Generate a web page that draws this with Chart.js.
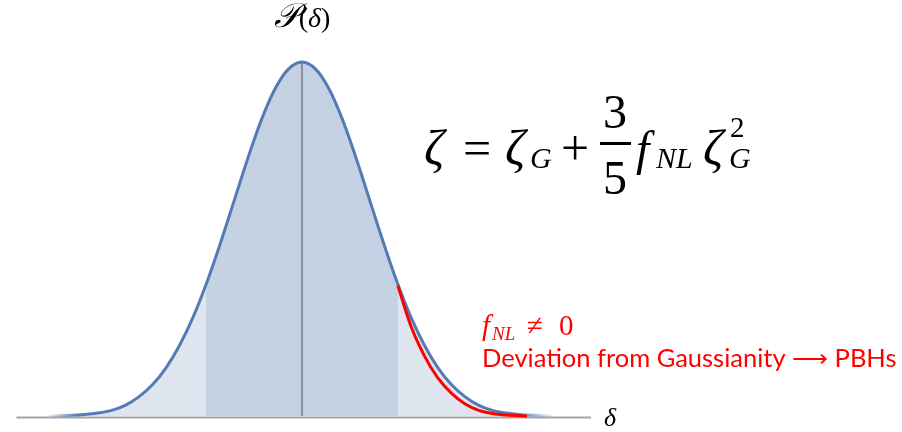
<!DOCTYPE html>
<html>
<head>
<meta charset="utf-8">
<script src="https://cdn.jsdelivr.net/npm/chart.js@4.4.1/dist/chart.umd.min.js"></script>
<style>
  html, body { margin: 0; padding: 0; background: #ffffff; }
  canvas { display: block; }
</style>
</head>
<body>
<canvas id="pdf" width="902" height="432"></canvas>
<script>
// Probability density P(δ), δ in units of the standard deviation, peak normalised to 1
const delta   = [-4, -3.8, -3.6, -3.4, -3.2, -3, -2.8, -2.6, -2.4, -2.2, -2, -1.8, -1.6, -1.4, -1.2, -1, -0.8, -0.6, -0.4, -0.2,
                 0, 0.2, 0.4, 0.6, 0.8, 1, 1.2, 1.4, 1.6, 1.8, 2, 2.2, 2.4, 2.6, 2.8, 3, 3.2, 3.4, 3.6, 3.8, 4];
const density = [0, 0.0003, 0.0009, 0.002, 0.0043, 0.0085, 0.016, 0.030, 0.054, 0.088, 0.136, 0.200, 0.280, 0.377, 0.488, 0.607, 0.726, 0.835, 0.923, 0.980,
                 1, 0.980, 0.923, 0.835, 0.726, 0.607, 0.488, 0.377, 0.280, 0.200, 0.136, 0.088, 0.054, 0.030, 0.016, 0.0085, 0.0043, 0.002, 0.0009, 0.0003, 0];

// Central band under the curve
const bandDelta   = [-1.41, -1.2, -1, -0.8, -0.6, -0.4, -0.2, 0, 0.2, 0.4, 0.6, 0.8, 1, 1.2, 1.41];
const bandDensity = [0.371, 0.488, 0.607, 0.726, 0.835, 0.923, 0.980, 1, 0.980, 0.923, 0.835, 0.726, 0.607, 0.488, 0.371];

// Non-Gaussian right tail (f_NL ≠ 0)
const tailDelta   = [1.41, 1.6, 1.8, 2.0, 2.2, 2.4, 2.6, 2.8, 3.0, 3.31];
const tailDensity = [0.368, 0.255, 0.170, 0.107, 0.064, 0.034, 0.016, 0.007, 0.0027, 0];

// Axes of the sketch
const peakAxisDelta = [0, 0];
const peakAxisValue = [0, 1];
const baseAxisDelta = [-4.2, 4.25];
const baseAxisValue = [-0.004, -0.004];

const pts = (xs, ys) => xs.map((x, i) => ({ x, y: ys[i] }));

// Stroke of the main curve fades out at both tails
function fadedCurve(ctx) {
  const chart = ctx.chart;
  if (!chart.chartArea) return 'rgb(86,122,180)';
  const xs = chart.scales.x;
  const x0 = xs.getPixelForValue(-3.75), x1 = xs.getPixelForValue(3.7);
  const g = chart.ctx.createLinearGradient(x0, 0, x1, 0);
  const stop = v => (xs.getPixelForValue(v) - x0) / (x1 - x0);
  g.addColorStop(0, 'rgba(86,122,180,0)');
  g.addColorStop(stop(-3.3), 'rgba(86,122,180,1)');
  g.addColorStop(stop(3.15), 'rgba(86,122,180,1)');
  g.addColorStop(1, 'rgba(86,122,180,0)');
  return g;
}

// Text labels and the equation
const labels = {
  id: 'labels',
  afterDraw(chart) {
    const c = chart.ctx;
    c.save();
    c.textBaseline = 'alphabetic';
    const put = (t, x, y, font, color, align) => {
      c.font = font; c.fillStyle = color || '#000'; c.textAlign = align || 'left';
      c.fillText(t, x, y);
    };
    // a row of differently styled pieces, centred on cx
    const row = (parts, cx, y, color) => {
      let total = 0;
      parts.forEach(p => { c.font = p[1]; total += c.measureText(p[0]).width; });
      let x = cx - total / 2;
      parts.forEach(p => { put(p[0], x, y, p[1], color); c.font = p[1]; x += c.measureText(p[0]).width; });
    };
    const M = '"Liberation Serif", "DejaVu Serif", serif';

    // axis labels
    row([['𝒫', 'italic 34px ' + M], ['(', '28px ' + M], ['δ', 'italic 28px ' + M], [')', '28px ' + M]], 302, 27, '#000');
    put('δ', 604, 426, 'italic 26px ' + M);

    // ζ = ζ_G + (3/5) f_NL ζ_G²
    put('ζ', 424, 165, 'italic 50px ' + M);
    put('=', 463, 165, '50px ' + M);
    put('ζ', 505, 165, 'italic 50px ' + M);
    put('G', 530, 168, 'italic 30px ' + M);
    put('+', 561, 165, '50px ' + M);
    put('3', 615, 128, '48px ' + M, '#000', 'center');
    c.fillStyle = '#000';
    c.fillRect(600, 142, 31, 3);
    put('5', 615, 194, '48px ' + M, '#000', 'center');
    put('f', 636, 165, 'italic 48px ' + M);
    put('NL', 656, 168, 'italic 30px ' + M);
    put('ζ', 703, 165, 'italic 50px ' + M);
    put('2', 730, 137, '29px ' + M);
    put('G', 729, 168, 'italic 30px ' + M);

    // red annotation
    const RED = '#ff0000';
    put('f', 482, 335, 'italic 29px ' + M, RED);
    put('NL', 492, 340, 'italic 19px ' + M, RED);
    put('≠', 527, 335, '29px ' + M, RED);
    put('0', 559, 335, '29px ' + M, RED);

    const txt = 'Deviation from Gaussianity ⟶ PBHs';
    const fam = 'px Lato, "Open Sans", sans-serif';
    c.font = '28' + fam;
    const size = 28 * 415 / c.measureText(txt).width;
    put(txt, 482, 367, size.toFixed(2) + fam, RED);
    c.restore();
  }
};

new Chart(document.getElementById('pdf'), {
  type: 'line',
  data: {
    datasets: [
      { data: pts(tailDelta, tailDensity), borderColor: '#ff0000', borderWidth: 3, fill: false,
        pointRadius: 0, cubicInterpolationMode: 'monotone' },
      { data: pts(delta, density), borderColor: fadedCurve, borderWidth: 3, fill: false,
        pointRadius: 0, cubicInterpolationMode: 'monotone' },
      { data: pts(peakAxisDelta, peakAxisValue), borderColor: 'rgb(140,142,148)', borderWidth: 2,
        fill: false, pointRadius: 0 },
      { data: pts(baseAxisDelta, baseAxisValue), borderColor: 'rgb(165,165,165)', borderWidth: 2,
        fill: false, pointRadius: 0 },
      { data: pts(bandDelta, bandDensity), borderWidth: 0, borderColor: 'rgba(0,0,0,0)',
        backgroundColor: 'rgb(197,210,228)', fill: 'origin', pointRadius: 0, cubicInterpolationMode: 'monotone' },
      { data: pts(delta, density), borderWidth: 0, borderColor: 'rgba(0,0,0,0)',
        backgroundColor: 'rgb(222,229,239)', fill: 'origin', pointRadius: 0, cubicInterpolationMode: 'monotone' }
    ]
  },
  options: {
    responsive: false,
    devicePixelRatio: 1,
    animation: false,
    layout: { padding: 0 },
    plugins: { legend: { display: false }, tooltip: { enabled: false } },
    scales: {
      x: { type: 'linear', min: -302 / 68, max: 600 / 68, display: false },
      y: { min: -16 / 354, max: 416 / 354, display: false }
    }
  },
  plugins: [labels]
});
</script>
</body>
</html>
